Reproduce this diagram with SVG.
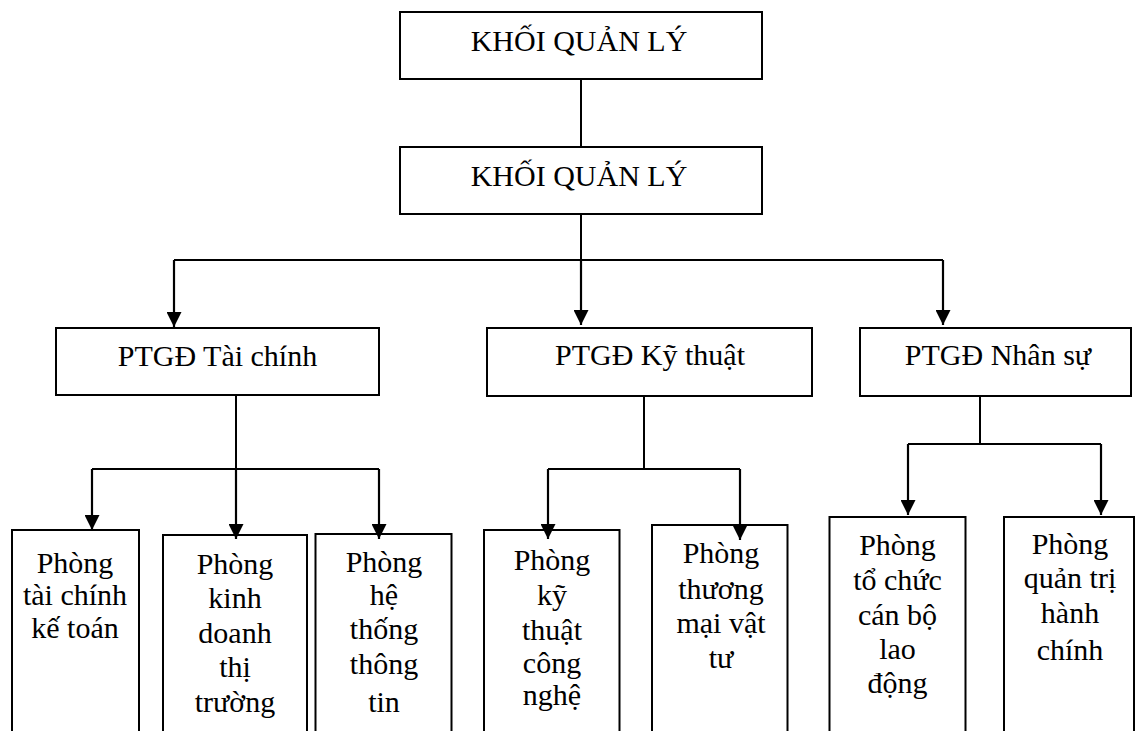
<svg xmlns="http://www.w3.org/2000/svg" width="1137" height="731" viewBox="0 0 1137 731">
  <style>
    .box { fill: #ffffff; stroke: #000000; stroke-width: 2; }
    .lbl { font-family: "Liberation Serif", "Times New Roman", serif; font-size: 30px; fill: #000000; text-anchor: middle; }
    .wire { fill: none; stroke: #000000; stroke-width: 2; }
    .arrow { fill: none; stroke: #000000; stroke-width: 2.2; marker-end: url(#head); }
  </style>
  <defs>
    <marker id="head" markerUnits="userSpaceOnUse" markerWidth="16" markerHeight="15" viewBox="0 0 15 15" refX="15" refY="7.5" orient="auto">
      <path d="M0,0 L15,7.5 L0,15 z" fill="#000000"/>
    </marker>
  </defs>
  <rect width="1137" height="731" fill="#ffffff"/>

  <g id="khoi-1">
    <rect class="box" x="400" y="12" width="362" height="67"/>
    <text class="lbl" x="579" y="51">KHỐI QUẢN LÝ</text>
  </g>
  <g id="khoi-2">
    <rect class="box" x="400" y="147" width="362" height="67"/>
    <text class="lbl" x="579" y="186">KHỐI QUẢN LÝ</text>
  </g>

  <g id="ptgd-taichinh">
    <rect class="box" x="56" y="328" width="323" height="67"/>
    <text class="lbl" x="217.5" y="366">PTGĐ Tài chính</text>
  </g>
  <g id="ptgd-kythuat">
    <rect class="box" x="487" y="328" width="325" height="68"/>
    <text class="lbl" x="650" y="365">PTGĐ Kỹ thuật</text>
  </g>
  <g id="ptgd-nhansu">
    <rect class="box" x="860" y="328" width="271" height="68"/>
    <text class="lbl" x="998" y="365">PTGĐ Nhân sự</text>
  </g>

  <g id="phong-taichinh">
    <rect class="box" x="12" y="530" width="127" height="215"/>
    <text class="lbl" x="75" y="573">Phòng</text>
    <text class="lbl" x="75" y="605">tài chính</text>
    <text class="lbl" x="75" y="638">kế toán</text>
  </g>
  <g id="phong-kinhdoanh">
    <rect class="box" x="163" y="535" width="144" height="210"/>
    <text class="lbl" x="235" y="574">Phòng</text>
    <text class="lbl" x="235" y="608">kinh</text>
    <text class="lbl" x="235" y="643">doanh</text>
    <text class="lbl" x="235" y="677">thị</text>
    <text class="lbl" x="235" y="712">trường</text>
  </g>
  <g id="phong-hethong">
    <rect class="box" x="315.5" y="534" width="136" height="211"/>
    <text class="lbl" x="384" y="572">Phòng</text>
    <text class="lbl" x="384" y="605">hệ</text>
    <text class="lbl" x="384" y="639">thống</text>
    <text class="lbl" x="384" y="674">thông</text>
    <text class="lbl" x="384" y="712">tin</text>
  </g>
  <g id="phong-kythuat">
    <rect class="box" x="484" y="530" width="135.5" height="215"/>
    <text class="lbl" x="552" y="570">Phòng</text>
    <text class="lbl" x="552" y="605">kỹ</text>
    <text class="lbl" x="552" y="640">thuật</text>
    <text class="lbl" x="552" y="673">công</text>
    <text class="lbl" x="552" y="705">nghệ</text>
  </g>
  <g id="phong-thuongmai">
    <rect class="box" x="652" y="525" width="135.5" height="220"/>
    <text class="lbl" x="721" y="563">Phòng</text>
    <text class="lbl" x="721" y="599">thương</text>
    <text class="lbl" x="721" y="633">mại vật</text>
    <text class="lbl" x="721" y="668">tư</text>
  </g>
  <g id="phong-tochuc">
    <rect class="box" x="829.5" y="517" width="136" height="228"/>
    <text class="lbl" x="897.5" y="555">Phòng</text>
    <text class="lbl" x="897.5" y="590">tổ chức</text>
    <text class="lbl" x="897.5" y="625">cán bộ</text>
    <text class="lbl" x="897.5" y="659">lao</text>
    <text class="lbl" x="897.5" y="693">động</text>
  </g>
  <g id="phong-quantri">
    <rect class="box" x="1004" y="517" width="130" height="228"/>
    <text class="lbl" x="1070" y="554">Phòng</text>
    <text class="lbl" x="1070" y="588">quản trị</text>
    <text class="lbl" x="1070" y="623">hành</text>
    <text class="lbl" x="1070" y="660">chính</text>
  </g>

  <!-- connectors, drawn last so arrowheads sit over the box edges -->
  <g id="connectors">
    <line class="wire" x1="581" y1="79" x2="581" y2="147"/>
    <line class="wire" x1="581" y1="214" x2="581" y2="260"/>
    <line class="wire" x1="174" y1="260" x2="943" y2="260"/>
    <line class="arrow" x1="174" y1="260" x2="174" y2="327"/>
    <line class="arrow" x1="581" y1="260" x2="581" y2="325"/>
    <line class="arrow" x1="943" y1="260" x2="943" y2="325"/>

    <!-- finance branch -->
    <line class="wire" x1="236" y1="395" x2="236" y2="469"/>
    <line class="wire" x1="92" y1="469" x2="379" y2="469"/>
    <line class="arrow" x1="92" y1="469" x2="92" y2="530"/>
    <line class="arrow" x1="236" y1="469" x2="236" y2="539"/>
    <line class="arrow" x1="379" y1="469" x2="379" y2="539"/>

    <!-- technical branch -->
    <line class="wire" x1="644" y1="396" x2="644" y2="469"/>
    <line class="wire" x1="548" y1="469" x2="740" y2="469"/>
    <line class="arrow" x1="548" y1="469" x2="548" y2="539"/>
    <line class="arrow" x1="740" y1="469" x2="740" y2="540"/>

    <!-- HR branch -->
    <line class="wire" x1="980" y1="396" x2="980" y2="444"/>
    <line class="wire" x1="908" y1="444" x2="1101" y2="444"/>
    <line class="arrow" x1="908" y1="444" x2="908" y2="515"/>
    <line class="arrow" x1="1101" y1="444" x2="1101" y2="515"/>
  </g>
</svg>
